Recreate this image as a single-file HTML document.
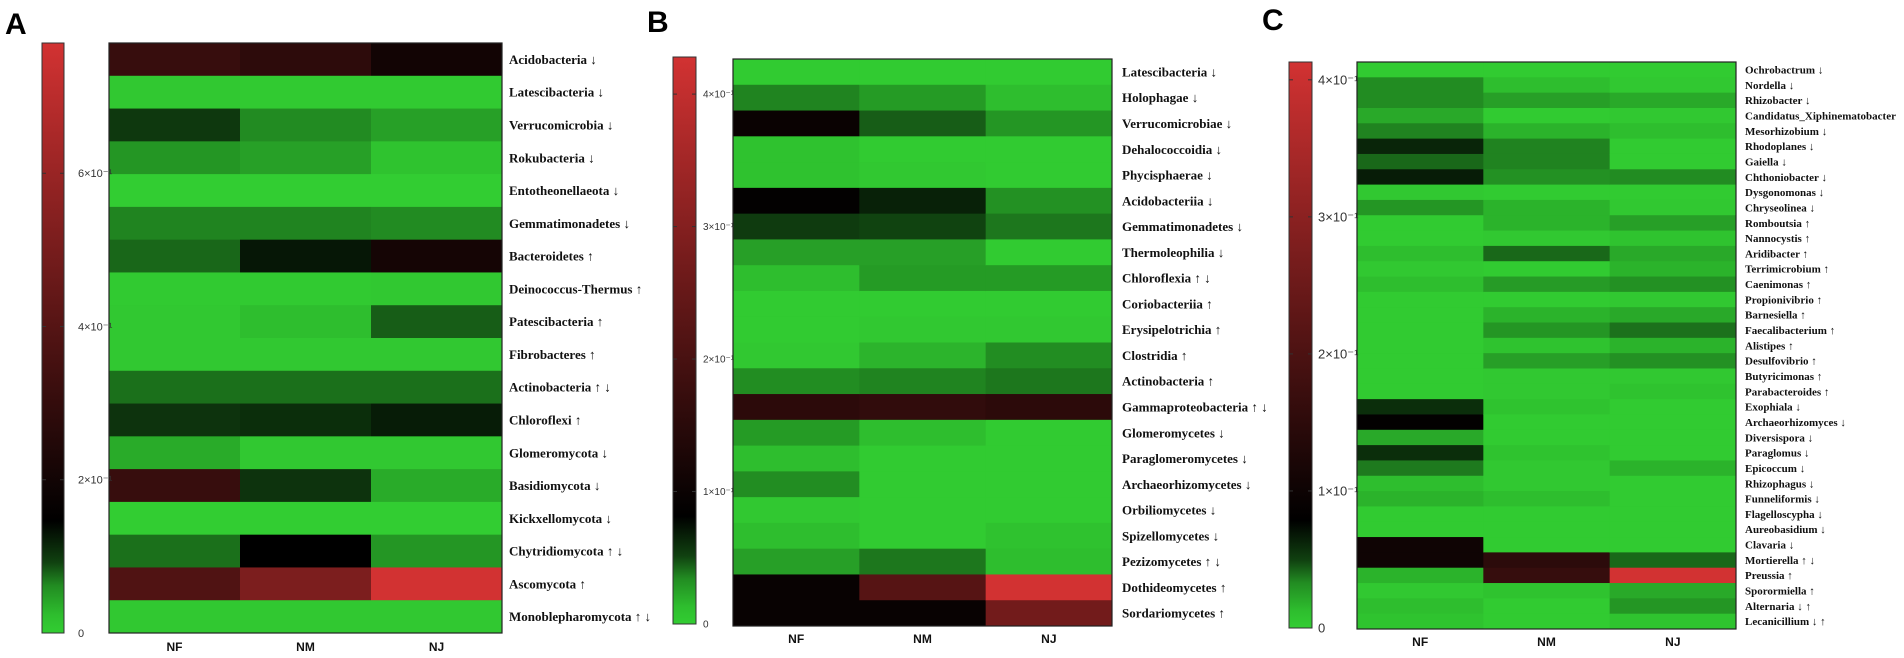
<!DOCTYPE html>
<html><head><meta charset="utf-8">
<style>
html,body{margin:0;padding:0;background:#fff;}
svg{display:block;}
.lbl{font-family:"Liberation Serif",serif;font-weight:bold;fill:#111;}
.tick{font-family:"Liberation Sans",sans-serif;fill:#333;}
.col{font-family:"Liberation Sans",sans-serif;font-weight:bold;font-size:12px;fill:#111;}
.letter{font-family:"Liberation Sans",sans-serif;font-weight:bold;font-size:30px;fill:#000;}
</style></head>
<body>
<svg id="fig" width="1904" height="658" viewBox="0 0 1904 658" xmlns="http://www.w3.org/2000/svg">
<defs>
<linearGradient id="cmap" x1="0" y1="1" x2="0" y2="0">
<stop offset="0" stop-color="rgb(50,205,50)"/>
<stop offset="0.03" stop-color="rgb(46,190,46)"/>
<stop offset="0.08" stop-color="rgb(34,140,34)"/>
<stop offset="0.12" stop-color="rgb(16,65,16)"/>
<stop offset="0.19" stop-color="rgb(0,0,0)"/>
<stop offset="1" stop-color="rgb(210,50,50)"/>
</linearGradient>
</defs>
<text class="letter" x="5" y="34">A</text>
<text class="letter" x="647" y="32">B</text>
<text class="letter" x="1262" y="30">C</text>
</svg>
<script>
const columns = ["NF","NM","NJ"];

const rowsA = ["Acidobacteria ↓","Latescibacteria ↓","Verrucomicrobia ↓","Rokubacteria ↓","Entotheonellaeota ↓","Gemmatimonadetes ↓","Bacteroidetes ↑","Deinococcus-Thermus ↑","Patescibacteria ↑","Fibrobacteres ↑","Actinobacteria ↑ ↓","Chloroflexi ↑","Glomeromycota ↓","Basidiomycota ↓","Kickxellomycota ↓","Chytridiomycota ↑ ↓","Ascomycota ↑","Monoblepharomycota ↑ ↓"];
const nfA = [0.31,0.008,0.10,0.054,0,0.065,0.077,0.004,0.008,0.008,0.073,0.104,0.038,0.31,0,0.073,0.385,0.008];
const nmA = [0.28,0.004,0.062,0.046,0,0.065,0.127,0.004,0.023,0.008,0.073,0.108,0.008,0.104,0,0.146,0.516,0.008];
const njA = [0.20,0.004,0.046,0.015,0,0.062,0.21,0.008,0.081,0.008,0.073,0.123,0.008,0.038,0,0.054,0.77,0.008];
const ticksA = [0,0.2,0.4,0.6];
const tickLabelsA = ["0","2×10⁻¹","4×10⁻¹","6×10⁻¹"];
const maxA = 0.77;

const rowsB = ["Latescibacteria ↓","Holophagae ↓","Verrucomicrobiae ↓","Dehalococcoidia ↓","Phycisphaerae ↓","Acidobacteriia ↓","Gemmatimonadetes ↓","Thermoleophilia ↓","Chloroflexia ↑ ↓","Coriobacteriia ↑","Erysipelotrichia ↑","Clostridia ↑","Actinobacteria ↑","Gammaproteobacteria ↑ ↓","Glomeromycetes ↓","Paraglomeromycetes ↓","Archaeorhizomycetes ↓","Orbiliomycetes ↓","Spizellomycetes ↓","Pezizomycetes ↑ ↓","Dothideomycetes ↑","Sordariomycetes ↑"];
const nfB = [.002,.036,.098,.009,.009,.086,.054,.026,.013,.002,.002,.004,.034,.154,.028,.013,.034,.004,.013,.026,.094,.094];
const nmB = [.002,.028,.045,.002,.004,.066,.051,.026,.028,.002,.004,.017,.036,.163,.013,.002,.002,.002,.002,.039,.223,.094];
const njB = [.002,.013,.030,.002,.002,.032,.039,.002,.028,.002,.004,.034,.039,.154,.002,.002,.002,.002,.009,.013,.428,.270];
const ticksB = [0,0.1,0.2,0.3,0.4];
const tickLabelsB = ["0","1×10⁻¹","2×10⁻¹","3×10⁻¹","4×10⁻¹"];
const maxB = 0.428;

const rowsC = ["Ochrobactrum ↓","Nordella ↓","Rhizobacter ↓","Candidatus_Xiphinematobacter","Mesorhizobium ↓","Rhodoplanes ↓","Gaiella ↓","Chthoniobacter ↓","Dysgonomonas ↓","Chryseolinea ↓","Romboutsia ↑","Nannocystis ↑","Aridibacter ↑","Terrimicrobium ↑","Caenimonas ↑","Propionivibrio ↑","Barnesiella ↑","Faecalibacterium ↑","Alistipes ↑","Desulfovibrio ↑","Butyricimonas ↑","Parabacteroides ↑","Exophiala ↓","Archaeorhizomyces ↓","Diversispora ↓","Paraglomus ↓","Epicoccum ↓","Rhizophagus ↓","Funneliformis ↓","Flagelloscypha ↓","Aureobasidium ↓","Clavaria ↓","Mortierella ↑ ↓","Preussia ↑","Sporormiella ↑","Alternaria ↓ ↑","Lecanicillium ↓ ↑"];
const nfC = [.002,.033,.033,.021,.035,.062,.041,.066,.004,.029,.002,.002,.012,.004,.012,.002,.002,.002,.002,.002,.002,.002,.058,.083,.021,.058,.037,.012,.017,.002,.002,.103,.103,.017,.004,.012,.008];
const nmC = [.002,.012,.025,.002,.017,.035,.035,.031,.002,.017,.017,.004,.041,.002,.027,.002,.017,.029,.008,.025,.004,.004,.008,.002,.002,.008,.004,.004,.012,.002,.002,.002,.149,.165,.008,.002,.002];
const njC = [.002,.004,.021,.004,.012,.002,.002,.033,.002,.004,.025,.008,.021,.017,.031,.004,.021,.039,.017,.031,.004,.008,.002,.002,.002,.002,.017,.002,.002,.002,.002,.002,.041,.413,.021,.029,.008];
const ticksC = [0,0.1,0.2,0.3,0.4];
const tickLabelsC = ["0","1×10⁻¹","2×10⁻¹","3×10⁻¹","4×10⁻¹"];
const maxC = 0.413;

const NS = "http://www.w3.org/2000/svg";
const svg = document.getElementById('fig');
const stops = [[0,[50,205,50]],[0.03,[46,190,46]],[0.08,[34,140,34]],[0.12,[16,65,16]],[0.19,[0,0,0]],[1,[210,50,50]]];
function colorOf(f){
  f = Math.max(0, Math.min(1, f));
  for (let i=1;i<stops.length;i++){
    if (f <= stops[i][0]){
      const a = stops[i-1], b = stops[i];
      const t = (f - a[0])/(b[0]-a[0]);
      const c = a[1].map((v,k)=>Math.round(v+(b[1][k]-v)*t));
      return `rgb(${c[0]},${c[1]},${c[2]})`;
    }
  }
  return 'rgb(210,50,50)';
}
function mk(tag, attrs, parent){
  const e = document.createElementNS(NS, tag);
  for (const k in attrs) e.setAttribute(k, attrs[k]);
  (parent||svg).appendChild(e);
  return e;
}
function panel(cfg){
  const g = mk('g', {});
  
  
  const series = [cfg.nf, cfg.nm, cfg.nj];
  const nRows = cfg.rows.length;
  const rowH = (cfg.y1 - cfg.y0)/nRows;
  const colW = (cfg.x1 - cfg.x0)/columns.length;
  const yScale = i => cfg.y0 + i*rowH;
  const xScale = j => cfg.x0 + j*colW;
  for (let j=0;j<columns.length;j++){
    for (let i=0;i<nRows;i++){
      const r = mk('rect', {x:xScale(j), y:yScale(i), width:colW+0.5, height:rowH+0.5, fill:colorOf(series[j][i]/cfg.max)}, g);
      
      
    }
    const t = mk('text', {x:xScale(j)+colW/2, y:cfg.colY, 'text-anchor':'middle', class:'col'}, g);
    t.textContent = columns[j];
    
    
  }
  const border = mk('rect', {x:cfg.x0, y:cfg.y0, width:cfg.x1-cfg.x0, height:cfg.y1-cfg.y0, fill:'none', stroke:'#222', 'stroke-width':1.2}, g);
  
  
  for (let i=0;i<nRows;i++){
    const t = mk('text', {x:cfg.labelX, y:yScale(i)+rowH/2+cfg.labelSize*0.35, class:'lbl', 'font-size':cfg.labelSize}, g);
    t.textContent = cfg.rows[i];
    
    
  }
  const cb = mk('rect', {x:cfg.cbX, y:cfg.cbY0, width:cfg.cbW, height:cfg.cbY1-cfg.cbY0, fill:'url(#cmap)', stroke:'#333', 'stroke-width':1}, g);
  
  
  const cbScale = v => cfg.cbY1 - (v/cfg.max)*(cfg.cbY1-cfg.cbY0);
  for (let k=0;k<cfg.ticks.length;k++){
    const y = cbScale(cfg.ticks[k]);
    if (k>0){
      mk('line', {x1:cfg.cbX, x2:cfg.cbX+4, y1:y, y2:y, stroke:'#333'}, g);
      mk('line', {x1:cfg.cbX+cfg.cbW-4, x2:cfg.cbX+cfg.cbW, y1:y, y2:y, stroke:'#333'}, g);
    }
    const t = mk('text', {x:cfg.tickX, y:y+cfg.tickSize*0.35, class:'tick', 'font-size':cfg.tickSize}, g);
    t.textContent = cfg.tickLabels[k];
    
    
  }
}
panel({name:'panel-a-phylum', rows:rowsA, nf:nfA, nm:nmA, nj:njA, max:maxA, ticks:ticksA, tickLabels:tickLabelsA,
  x0:109, x1:502, y0:43, y1:633, colY:651, labelX:509, labelSize:13,
  cbX:42, cbW:22, cbY0:43, cbY1:633, tickX:78, tickSize:11});
panel({name:'panel-b-class', rows:rowsB, nf:nfB, nm:nmB, nj:njB, max:maxB, ticks:ticksB, tickLabels:tickLabelsB,
  x0:733, x1:1112, y0:59, y1:626, colY:643, labelX:1122, labelSize:13,
  cbX:673, cbW:23, cbY0:57, cbY1:624, tickX:703, tickSize:10});
panel({name:'panel-c-genus', rows:rowsC, nf:nfC, nm:nmC, nj:njC, max:maxC, ticks:ticksC, tickLabels:tickLabelsC,
  x0:1357, x1:1736, y0:62, y1:629, colY:646, labelX:1745, labelSize:11,
  cbX:1289, cbW:23, cbY0:62, cbY1:628, tickX:1318, tickSize:13});
</script>
</body></html>
